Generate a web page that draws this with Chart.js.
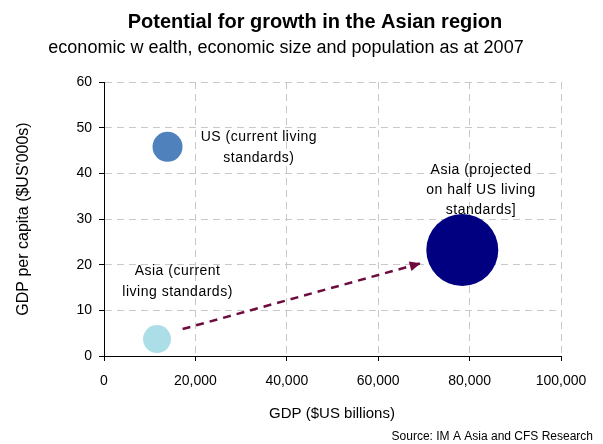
<!DOCTYPE html>
<html>
<head>
<meta charset="utf-8">
<script src="https://cdn.jsdelivr.net/npm/chart.js@4"></script>
<style>
  html, body { margin: 0; padding: 0; background: #fff; }
  #wrap { width: 603px; height: 444px; position: relative; }
</style>
</head>
<body>
<div id="wrap"><canvas id="growth"></canvas></div>
<script>
// GDP ($US bn), GDP per capita ($US'000s), bubble radius (px)
const seriesNames = ['US (current living standards)', 'Asia (current living standards)', 'Asia (projected on half US living standards]'];
const gdpValues = [13900, 11600, 78400];
const perCapitaValues = [45.8, 3.7, 23.2];
const bubbleSizes = [15, 14, 36];
const bubbleColors = ['#4f81bd', '#abdee6', '#000080'];

// growth path arrow, from current Asia towards the projection
const arrowGdp = [17200, 69300];
const arrowPerCapita = [5.9, 20.3];

const xTicks = [0, 20000, 40000, 60000, 80000, 100000];
const yTicks = [0, 10, 20, 30, 40, 50, 60];

const FONT = 'Liberation Sans, Arial, sans-serif';
const INK = '#000';
const ARROW = '#6e0c3e';

// callout text next to each bubble: lines, anchor in data units
const callouts = [
  { lines: ['US (current living', 'standards)'], x: 33900, y: 47.1, step: 21 },
  { lines: ['Asia (current', 'living standards)'], x: 16100, y: 17.7, step: 21 },
  { lines: ['Asia (projected', 'on half US living', 'standards]'], x: 82500, y: 39.8, step: 20 }
];

const textPlugin = {
  id: 'textPlugin',
  afterDraw(chart) {
    const { ctx } = chart;
    const xs = chart.scales.x, ys = chart.scales.y;
    ctx.save();
    ctx.fillStyle = INK;
    ctx.textBaseline = 'alphabetic';

    // headings
    ctx.textAlign = 'center';
    ctx.font = 'bold 20px ' + FONT;
    ctx.fillText('Potential for growth in the Asian region', 315, 28);
    ctx.font = '18px ' + FONT;
    ctx.fillText('economic w ealth, economic size and population as at 2007', 286, 53);

    // axis titles
    ctx.font = '15px ' + FONT;
    ctx.fillText('GDP ($US billions)', 332, 418);
    ctx.save();
    ctx.translate(28, 219);
    ctx.rotate(-Math.PI / 2);
    ctx.font = '16px ' + FONT;
    ctx.fillText("GDP per capita ($US'000s)", 0, 0);
    ctx.restore();

    ctx.textAlign = 'right';
    ctx.font = '12px ' + FONT;
    ctx.fillText('Source: IM A Asia and CFS Research', 593, 440);

    // bubble callouts
    ctx.textAlign = 'center';
    ctx.font = '14px ' + FONT;
    ctx.letterSpacing = '0.5px';
    callouts.forEach(c => {
      const px = xs.getPixelForValue(c.x);
      const py = ys.getPixelForValue(c.y);
      c.lines.forEach((t, i) => ctx.fillText(t, px, py + i * c.step));
    });
    ctx.restore();

    // arrow head at the end of the path
    const meta = chart.getDatasetMeta(1);
    const pts = meta.data;
    if (pts.length > 1) {
      const a = pts[pts.length - 2], b = pts[pts.length - 1];
      const ang = Math.atan2(b.y - a.y, b.x - a.x);
      const len = 11, half = 5;
      ctx.save();
      ctx.translate(b.x, b.y);
      ctx.rotate(ang);
      ctx.fillStyle = ARROW;
      ctx.beginPath();
      ctx.moveTo(0, 0);
      ctx.lineTo(-len, -half);
      ctx.lineTo(-len, half);
      ctx.closePath();
      ctx.fill();
      ctx.restore();
    }
  }
};

const bubblePoints = gdpValues.map((g, i) => ({ x: g, y: perCapitaValues[i], r: bubbleSizes[i] }));
const arrowPoints = arrowGdp.map((g, i) => ({ x: g, y: arrowPerCapita[i] }));

new Chart(document.getElementById('growth'), {
  type: 'bubble',
  data: {
    datasets: [
      {
        label: 'Economies',
        data: bubblePoints,
        backgroundColor: bubbleColors,
        borderWidth: 0,
        hoverBorderWidth: 0,
        order: 1
      },
      {
        type: 'line',
        label: 'Growth path',
        data: arrowPoints,
        borderColor: ARROW,
        borderWidth: 2.5,
        borderDash: [8, 6],
        pointRadius: 0,
        fill: false,
        order: 0
      }
    ]
  },
  options: {
    responsive: true,
    maintainAspectRatio: false,
    animation: false,
    layout: { padding: { top: 82, right: 42, left: 0, bottom: 0 } },
    plugins: {
      legend: { display: false },
      tooltip: { enabled: false }
    },
    scales: {
      x: {
        type: 'linear',
        min: 0,
        max: 100000,
        afterBuildTicks: s => { s.ticks = xTicks.map(v => ({ value: v })); },
        afterFit: s => { s.height = 88; },
        grid: {
          color: '#c8c8c8',
          tickColor: '#000',
          tickLength: 5,
          tickBorderDash: [],
          lineWidth: 1
        },
        border: { color: '#000', width: 1, dash: [7, 5] },
        ticks: {
          color: INK,
          padding: 12,
          maxRotation: 0,
          font: { size: 14, family: FONT },
          callback: v => v.toLocaleString('en-US')
        }
      },
      y: {
        type: 'linear',
        min: 0,
        max: 60,
        afterBuildTicks: s => { s.ticks = yTicks.map(v => ({ value: v })); },
        afterFit: s => { s.width = 104; },
        grid: {
          color: '#c8c8c8',
          tickColor: '#000',
          tickLength: 5,
          tickBorderDash: [],
          lineWidth: 1
        },
        border: { color: '#000', width: 1, dash: [7, 5] },
        ticks: {
          color: INK,
          padding: 7,
          font: { size: 14, family: FONT }
        }
      }
    }
  },
  plugins: [textPlugin]
});
</script>
</body>
</html>
